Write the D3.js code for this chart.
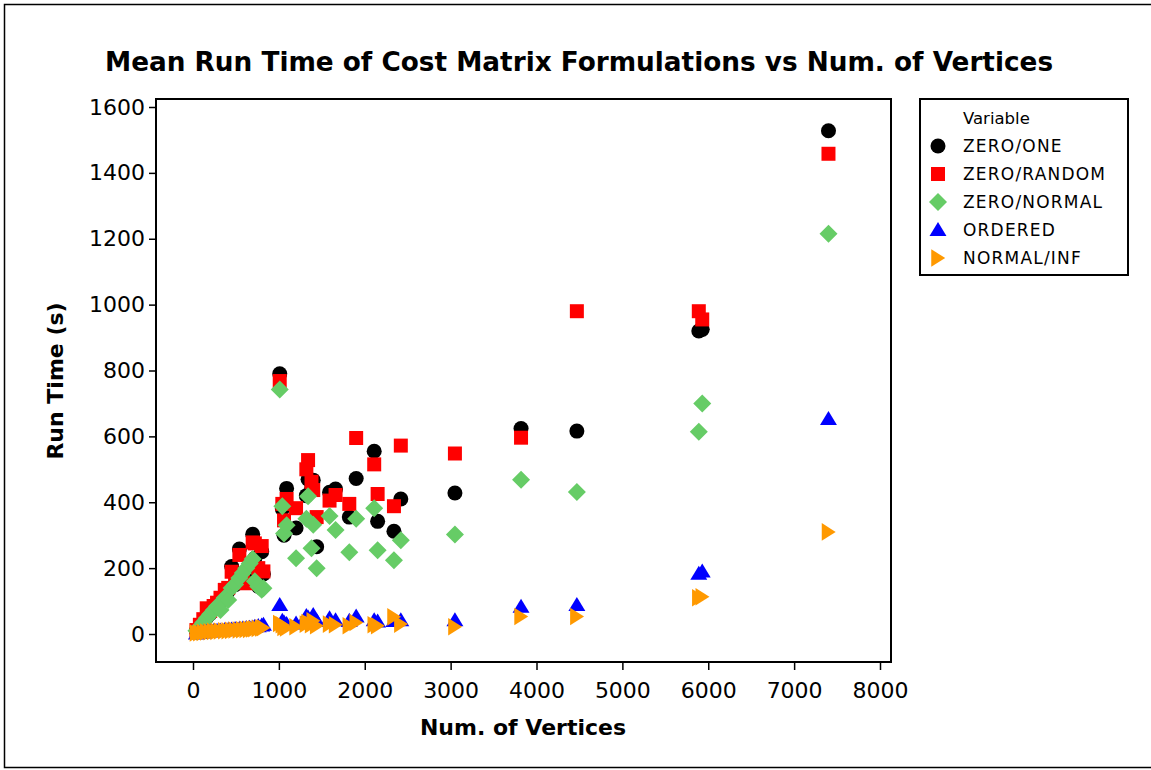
<!DOCTYPE html>
<html>
<head>
<meta charset="utf-8">
<script src="https://cdn.jsdelivr.net/npm/d3@7"></script>
<style>
  body { margin: 0; background: #fff; }
  svg { display: block; }
</style>
</head>
<body>
<div id="chart"></div>
<script>
// graphs tested (number of vertices) and mean run time (s) of each formulation
var vertices = [40, 80, 120, 160, 200, 240, 280, 320, 370, 410, 450, 490, 540, 580, 620, 660, 695, 720, 760, 800, 820,
                1010, 1040, 1060, 1090, 1200, 1320, 1340, 1380, 1400, 1440, 1590, 1660, 1820, 1900, 2110, 2150, 2340, 2420,
                3050, 3820, 4470, 5890, 5930, 7400];
var zeroOne    = [10, 22, 36, 50, 62, 75, 88, 100, 120, 130, 205, 150, 258, 175, 190, 205, 303, 230, 145, 250, 182,
                  790, 380, 300, 442, 322, 420, 470, 440, 467, 265, 430, 440, 355, 472, 555, 342, 312, 410,
                  428, 624, 616, 920, 925, 1528];
var zeroRandom = [12, 28, 45, 78, 70, 85, 95, 110, 134, 140, 189, 165, 240, 180, 154, 210, 278, 275, 200, 267, 190,
                  768, 395, 345, 410, 382, 500, 528, 462, 437, 355, 405, 422, 395, 595, 515, 425, 388, 572,
                  548, 596, 980, 980, 955, 1458];
var zeroNormal = [10, 22, 35, 48, 60, 72, 84, 73, 110, 103, 140, 150, 170, 185, 200, 214, 228, 160, 144, 134, 139,
                  742, 388, 305, 330, 230, 350, 418, 260, 332, 200, 358, 316, 248, 350, 382, 254, 224, 285,
                  302, 468, 431, 614, 700, 1215];
var ordered    = [2, 3, 5, 6, 8, 9, 10, 11, 12, 13, 14, 15, 16, 17, 18, 19, 20, 22, 24, 26, 28,
                  88, 40, 35, 30, 32, 55, 50, 45, 58, 40, 48, 42, 40, 53, 42, 38, 40, 42,
                  42, 83, 88, 183, 190, 653];
var normalInf  = [3, 4, 5, 6, 7, 8, 8, 9, 10, 10, 11, 12, 12, 13, 14, 14, 15, 16, 17, 18, 19,
                  32, 28, 20, 18, 22, 30, 35, 28, 40, 25, 30, 28, 25, 35, 28, 25, 52, 30,
                  22, 53, 53, 110, 113, 310];

var seriesNames = ["ZERO/ONE", "ZERO/RANDOM", "ZERO/NORMAL", "ORDERED", "NORMAL/INF"];
var seriesValues = [zeroOne, zeroRandom, zeroNormal, ordered, normalInf];
var seriesColors = ["#000000", "#ff0000", "#66cc66", "#0000ff", "#ff9900"];

var xTicks = [0, 1000, 2000, 3000, 4000, 5000, 6000, 7000, 8000];
var yTicks = [0, 200, 400, 600, 800, 1000, 1200, 1400, 1600];

var width = 1151, height = 770;
var frame = { left: 156, right: 891, top: 99, bottom: 662 };

// marker shapes
var diamond = {
  draw: function (ctx, size) {
    var r = Math.sqrt(size / 2);
    ctx.moveTo(0, -r); ctx.lineTo(r, 0); ctx.lineTo(0, r); ctx.lineTo(-r, 0); ctx.closePath();
  }
};
var triUp = {
  draw: function (ctx, size) {
    var s = Math.sqrt(size);
    ctx.moveTo(0, -0.5 * s); ctx.lineTo(0.53 * s, 0.38 * s); ctx.lineTo(-0.53 * s, 0.38 * s); ctx.closePath();
  }
};
var triRight = {
  draw: function (ctx, size) {
    var s = Math.sqrt(size);
    ctx.moveTo(-0.42 * s, -0.55 * s); ctx.lineTo(0.45 * s, 0); ctx.lineTo(-0.42 * s, 0.55 * s); ctx.closePath();
  }
};
var symbols = [
  d3.symbol().type(d3.symbolCircle).size(177),
  d3.symbol().type(d3.symbolSquare).size(196),
  d3.symbol().type(diamond).size(162),
  d3.symbol().type(triUp).size(256),
  d3.symbol().type(triRight).size(256)
];

var svg = d3.select("#chart")
            .append("svg")
            .attr("width", width)
            .attr("height", height)
            .style("font-family", "'DejaVu Sans', sans-serif");

svg.append("rect")
   .attr("width", width).attr("height", height)
   .attr("fill", "#fff");

// outer border
svg.append("rect")
   .attr("x", 4.5).attr("y", 4.5)
   .attr("width", 1150).attr("height", 763)
   .attr("fill", "none")
   .attr("stroke", "#000")
   .attr("stroke-width", 1.5);

var x = d3.scaleLinear().domain([0, 8000]).range([193, 880]);
var y = d3.scaleLinear().domain([0, 1600]).range([634, 107]);

// title
svg.append("text")
   .attr("x", 579)
   .attr("y", 71)
   .attr("text-anchor", "middle")
   .style("font-size", "26.3px")
   .style("font-weight", "bold")
   .text("Mean Run Time of Cost Matrix Formulations vs Num. of Vertices");

// axes
var yAxis = svg.append("g")
   .attr("transform", "translate(" + frame.left + ",0)")
   .call(d3.axisLeft(y).tickValues(yTicks).tickSize(7).tickPadding(4).tickFormat(d3.format("d")));
var xAxis = svg.append("g")
   .attr("transform", "translate(0," + frame.bottom + ")")
   .call(d3.axisBottom(x).tickValues(xTicks).tickSize(8).tickPadding(12).tickFormat(d3.format("d")));

[xAxis, yAxis].forEach(function (g) {
  g.select(".domain").remove();
  g.selectAll(".tick line").attr("stroke", "#000").attr("stroke-width", 1.5);
  g.selectAll(".tick text")
   .attr("fill", "#000")
   .style("font-family", "'DejaVu Sans', sans-serif")
   .style("font-size", "22px");
});

// plot frame
svg.append("rect")
   .attr("x", frame.left).attr("y", frame.top)
   .attr("width", frame.right - frame.left)
   .attr("height", frame.bottom - frame.top)
   .attr("fill", "none")
   .attr("stroke", "#000")
   .attr("stroke-width", 2);

// axis titles
svg.append("text")
   .attr("x", 523)
   .attr("y", 735)
   .attr("text-anchor", "middle")
   .style("font-size", "22px")
   .style("font-weight", "bold")
   .text("Num. of Vertices");

svg.append("text")
   .attr("transform", "translate(63,381) rotate(-90)")
   .attr("text-anchor", "middle")
   .style("font-size", "22px")
   .style("font-weight", "bold")
   .text("Run Time (s)");

// points
seriesValues.forEach(function (vals, i) {
  svg.append("g")
     .selectAll("path")
     .data(vertices.map(function (v, j) { return [v, vals[j]]; }))
     .enter()
     .append("path")
     .attr("transform", function (d) { return "translate(" + x(d[0]) + "," + y(d[1]) + ")"; })
     .attr("d", symbols[i]())
     .attr("fill", seriesColors[i]);
});

// legend
var legend = svg.append("g");
legend.append("rect")
   .attr("x", 920).attr("y", 99)
   .attr("width", 208).attr("height", 176)
   .attr("fill", "#fff")
   .attr("stroke", "#000")
   .attr("stroke-width", 2);

legend.append("text")
   .attr("x", 963)
   .attr("y", 124)
   .style("font-size", "16.5px")
   .text("Variable");

seriesNames.forEach(function (name, i) {
  var yy = 152 + i * 28;
  legend.append("path")
     .attr("transform", "translate(938," + (yy - 6) + ")")
     .attr("d", symbols[i]())
     .attr("fill", seriesColors[i]);
  legend.append("text")
     .attr("x", 963)
     .attr("y", yy)
     .style("font-size", "17px")
     .style("letter-spacing", "1.2px")
     .text(name);
});
</script>
</body>
</html>
